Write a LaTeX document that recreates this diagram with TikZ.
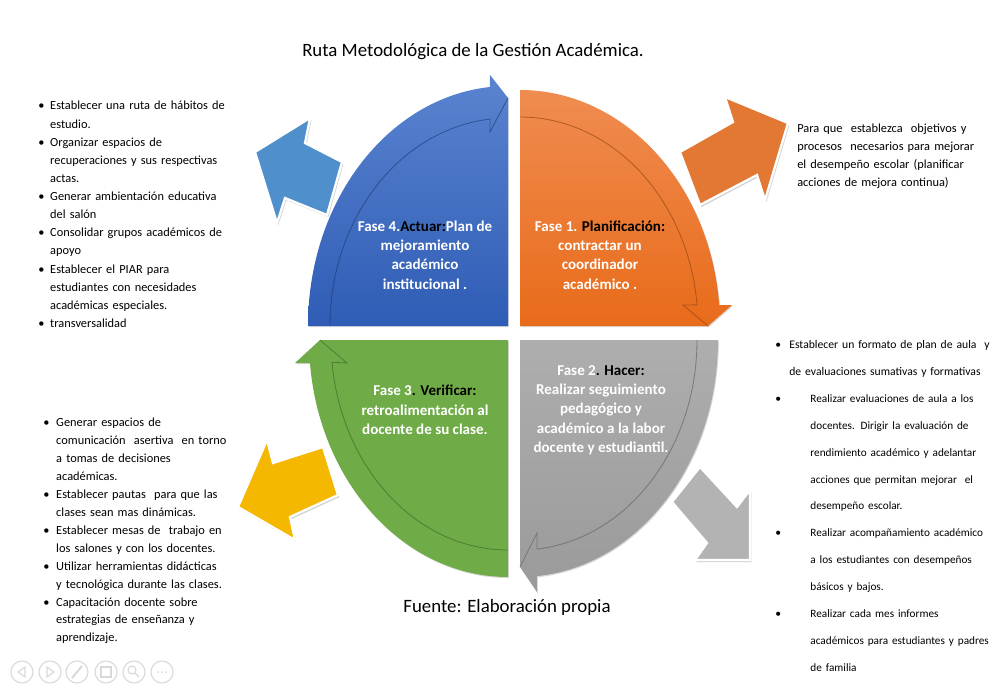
\documentclass[tikz,border=0pt]{standalone}
\usepackage{fontspec}
\setmainfont{Carlito}
\usetikzlibrary{shadows}

\definecolor{bluetop}{HTML}{5A84D0}
\definecolor{bluebot}{HTML}{2F5CB5}
\definecolor{orangetop}{HTML}{F08C50}
\definecolor{orangebot}{HTML}{E86B1A}
\definecolor{greenfill}{HTML}{6FAC47}
\definecolor{graytop}{HTML}{AEAEAE}
\definecolor{graybot}{HTML}{9A9A9A}
\definecolor{arrblue}{HTML}{4F90CC}
\definecolor{arrorange}{HTML}{E27833}
\definecolor{arryellow}{HTML}{F4B800}
\definecolor{arrgray}{HTML}{B3B3B3}

\newcommand{\pitem}[2]{{\leftskip=#1\noindent\hspace*{-#1}\makebox[#1][l]{\textbullet}#2\par}}

\begin{document}
\begin{tikzpicture}[x=0.025cm, y=-0.025cm,
  quad/.style={drop shadow={opacity=0.3, shadow xshift=0.6pt, shadow yshift=-0.8pt}},
  band/.style={line width=0.6pt, opacity=0.6},
  sidearrow/.style={draw=white, line width=1.6pt, line join=miter,
    drop shadow={opacity=0.35, shadow xshift=1pt, shadow yshift=-1.5pt}},
  phase/.style={text=white, font=\bfseries\fontsize{10.7}{13.7}\selectfont, align=center, inner sep=0pt},
  list/.style={anchor=north west, inner sep=0pt, text width=6.5cm, font=\fontsize{8.8}{12.9}\selectfont},
  navring/.style={draw=black!15, line width=0.8pt}]

\fill[white, use as bounding box] (0,0) rectangle (996,684);

% title
\node[font=\fontsize{13.4}{16}\selectfont] (title) at (473,52) {Ruta Metodológica de la Gestión Académica.};

% fase 4 (blue)
\path[quad, top color=bluetop, bottom color=bluebot] (508,326) -- (308,326)
  arc[start angle=180, end angle=264.8, x radius=200, y radius=240] -- (490,75) -- (508,98) -- cycle;
\draw[band, bluebot!60!black] (330,326) arc[start angle=180, end angle=264.2, x radius=178, y radius=208]
  -- (490,132) -- (508,98);

% fase 1 (orange)
\path[quad, top color=orangetop, bottom color=orangebot] (520,326) -- (520,90)
  arc[start angle=270, end angle=354.9, x radius=200, y radius=236] -- (732,305) -- (708,326) -- cycle;
\draw[band, orangebot!60!black] (520,117) arc[start angle=270, end angle=354.2, x radius=178, y radius=209]
  -- (683,305) -- (708,326);

% fase 3 (green)
\path[quad, fill=greenfill] (508,340) -- (508,577)
  arc[start angle=90, end angle=174.4, x radius=199, y radius=237] -- (295,363) -- (320,340) -- cycle;
\draw[band, greenfill!55!black] (508,550) arc[start angle=90, end angle=173.9, x radius=177, y radius=210]
  -- (347,363) -- (320,340);

% fase 2 (gray)
\path[quad, top color=graytop, bottom color=graybot] (520,340) -- (718,340)
  arc[start angle=0, end angle=85.1, x radius=198, y radius=237] -- (537,592) -- (520,567) -- cycle;
\draw[band, graybot!60!black] (697,340) arc[start angle=0, end angle=84.5, x radius=177, y radius=210]
  -- (537,533) -- (520,567);

% phase texts
\node[phase] (q4) at (425,255) {Fase 4.\textcolor{black}{Actuar:}Plan de\\mejoramiento\\académico\\institucional .};
\node[phase] (q1) at (600,255) {Fase 1. \textcolor{black}{Planificación:}\\contractar un\\coordinador\\académico .};
\node[phase] (q3) at (425,410) {Fase 3\textcolor{black}{. Verificar:}\\retroalimentación al\\docente de su clase.};
\node[phase] (q2) at (601,410) {Fase 2\textcolor{black}{. Hacer:}\\Realizar seguimiento\\pedagógico y\\académico a la labor\\docente y estudiantil.};

% side arrows
\path[sidearrow, fill=arrblue] (255,152) -- (310,118) -- (305,143) -- (342,162) -- (327,215) -- (285,198) -- (277,223) -- cycle;
\path[sidearrow, fill=arrorange] (788,123) -- (725,97) -- (733,122) -- (680,152) -- (700,205) -- (757,175) -- (765,200) -- cycle;
\path[sidearrow, fill=arryellow] (238,507) -- (267,440) -- (273,463) -- (323,447) -- (338,495) -- (290,517) -- (295,540) -- cycle;
\path[sidearrow, fill=arrgray] (700,467) -- (737,507) -- (750,490) -- (750,560) -- (695,560) -- (707,543) -- (672,502) -- cycle;

% lists
\node[list] (l4) at (38,101) {%
  \pitem{8.5pt}{Establecer una ruta de hábitos de\\estudio.}
  \pitem{8.5pt}{Organizar espacios de\\recuperaciones y sus respectivas\\actas.}
  \pitem{8.5pt}{Generar ambientación educativa\\del salón}
  \pitem{8.5pt}{Consolidar grupos académicos de\\apoyo}
  \pitem{8.5pt}{Establecer el PIAR para\\estudiantes con necesidades\\académicas especiales.}
  \pitem{8.5pt}{transversalidad}};
\node[list, font=\fontsize{8.8}{12.6}\selectfont] (l1) at (797,124) {%
  Para que~ establezca~ objetivos y\\procesos~ necesarios para mejorar\\el desempeño escolar (planificar\\acciones de mejora continua)};
\node[list, font=\fontsize{8.3}{19.15}\selectfont] (l2) at (775,340) {%
  \pitem{10pt}{Establecer un formato de plan de aula~ y\\de evaluaciones sumativas y formativas}
  \pitem{25pt}{\fontsize{8}{19.15}\selectfont Realizar evaluaciones de aula a los\\docentes. Dirigir la evaluación de\\rendimiento académico y adelantar\\acciones que permitan mejorar~ el\\desempeño escolar.}
  \pitem{25pt}{\fontsize{8}{19.15}\selectfont Realizar acompañamiento académico\\a los estudiantes con desempeños\\básicos y bajos.}
  \pitem{25pt}{\fontsize{8}{19.15}\selectfont Realizar cada mes informes\\académicos para estudiantes y padres\\de familia}};
\node[list, font=\fontsize{8.8}{12.74}\selectfont] (l3) at (43,418) {%
  \pitem{9.2pt}{Generar espacios de\\comunicación~ asertiva~ en torno\\a tomas de decisiones\\académicas.}
  \pitem{9.2pt}{Establecer pautas~ para que las\\clases sean mas dinámicas.}
  \pitem{9.2pt}{Establecer mesas de~ trabajo en\\los salones y con los docentes.}
  \pitem{9.2pt}{Utilizar herramientas didácticas\\y tecnológica durante las clases.}
  \pitem{9.2pt}{Capacitación docente sobre\\estrategias de enseñanza y\\aprendizaje.}};

% source
\node[font=\fontsize{13.4}{16}\selectfont] (src) at (507,607) {Fuente: Elaboración propia};

% slide controls
\foreach \x in {22,50,77,106,134,162}
  \draw[navring] (\x,672) circle (11);
\draw[navring] (25,667) -- (18,672) -- (25,677) -- cycle;
\draw[navring] (47,667) -- (54,672) -- (47,677) -- cycle;
\draw[navring, line width=1.4pt] (72,678) -- (82,666);
\draw[navring] (101,667) rectangle (111,677);
\draw[navring] (132,670) circle (4);
\draw[navring] (135,673) -- (139,677);
\foreach \d in {-4,0,4}
  \fill[black!15] (162+\d,672) circle (1);
\end{tikzpicture}
\end{document}
